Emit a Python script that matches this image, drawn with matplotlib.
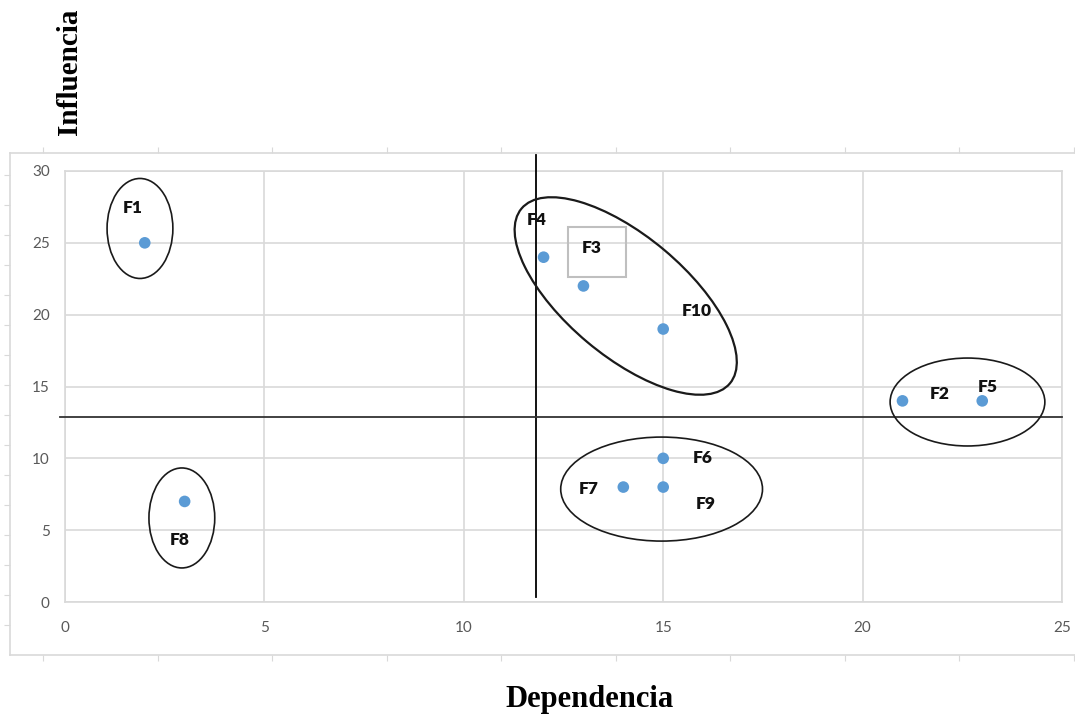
import matplotlib
matplotlib.use("Agg")
import matplotlib.pyplot as plt
from matplotlib.patches import Ellipse, Rectangle
from matplotlib.transforms import Affine2D

# Datos (Dependencia, Influencia)
labels = ["F1", "F2", "F3", "F4", "F5", "F6", "F7", "F8", "F9", "F10"]
dependencia = [2, 21, 13, 12, 23, 15, 14, 3, 15, 15]
influencia = [25, 14, 22, 24, 14, 10, 8, 7, 8, 19]

# posiciones de las etiquetas (en unidades del grafico)
label_x = [1.71, 21.94, 13.21, 11.84, 23.14, 16.0, 13.14, 2.88, 16.07, 15.85]
label_y = [27.4, 14.47, 24.63, 26.58, 14.96, 10.02, 7.86, 4.31, 6.82, 20.25]

xticks = [0, 5, 10, 15, 20, 25]
yticks = [0, 5, 10, 15, 20, 25, 30]

W, H = 1075, 717
fig = plt.figure(figsize=(W / 100, H / 100), dpi=100)

# marco exterior (lienzo)
frame = fig.add_axes([10 / W, 1 - 655 / H, 1080 / W, 502 / H], zorder=0)
frame.set_xlim(0, 1080)
frame.set_ylim(0, 502)
frame.set_facecolor("none")
for s in ["left", "top", "bottom"]:
    frame.spines[s].set_color("#d9d9d9")
    frame.spines[s].set_linewidth(1.2)
frame.spines["right"].set_visible(False)
frame.set_xticks([33 + 114.5 * k for k in range(10)])
frame.set_yticks([30 * k for k in range(1, 17)])
frame.tick_params(axis="x", which="both", top=True, bottom=True, direction="out",
                  length=4, color="#d9d9d9", labelbottom=False)
frame.tick_params(axis="y", left=True, direction="out", length=4,
                  color="#d9d9d9", labelleft=False)

# area de trazado
ax = fig.add_axes([65 / W, 1 - 602 / H, 997 / W, 431 / H], zorder=1)
ax.set_facecolor("none")
ax.set_xlim(0, 25)
ax.set_ylim(0, 30)
ax.set_xticks(xticks)
ax.set_yticks(yticks)
ax.grid(True, color="#d9d9d9", linewidth=1.2)
ax.set_axisbelow(True)
for s in ax.spines.values():
    s.set_color("#d9d9d9")
    s.set_linewidth(1.2)
ax.tick_params(length=0, labelsize=11, labelcolor="#595959")
ax.tick_params(axis="y", pad=11)
ax.tick_params(axis="x", pad=14)
for t in ax.get_xticklabels() + ax.get_yticklabels():
    t.set_fontfamily("Lato")

ax.scatter(dependencia, influencia, s=70, color="#5b9bd5", zorder=4,
           edgecolors="none")

for lab, x, y in zip(labels, label_x, label_y):
    ax.text(x, y, lab, ha="center", va="center", fontsize=12.5,
            fontweight="heavy", family="Lato", color="#111111", zorder=5)

# cuadro de F3
ax.add_patch(Rectangle((12.61, 22.62), 1.46, 3.48, fill=False,
                       edgecolor="#bfbfbf", linewidth=1.5, zorder=3))

# lineas de cuadrantes
ax.plot([11.8, 11.8], [0.35, 31.1], color="black", linewidth=1.3,
        clip_on=False, zorder=3)
ax.plot([-0.13, 25], [12.87, 12.87], color="#333333", linewidth=1.3,
        clip_on=False, zorder=3)

# elipses
for cx, cy, w, h in [(1.88, 26.0, 1.65, 6.96), (2.93, 5.85, 1.65, 6.96),
                     (22.63, 13.92, 3.88, 6.12), (14.96, 7.86, 5.06, 7.24)]:
    ax.add_patch(Ellipse((cx, cy), w, h, fill=False, edgecolor="#1a1a1a",
                         linewidth=1.2, zorder=3, clip_on=False))

px_x, px_y = 997 / 25, 431 / 30
tr = Affine2D().scale(1 / px_x, 1 / px_y) + ax.transData
ax.add_patch(Ellipse((14.06 * px_x, 21.3 * px_y), 272, 120, angle=-40,
                     fill=False, edgecolor="#1a1a1a", linewidth=1.6,
                     transform=tr, zorder=3, clip_on=False))

# titulos de ejes
fig.text(70 / W, 1 - 72 / H, "Influencia", rotation=90, ha="center",
         va="center", fontsize=21, fontweight="bold", family="Liberation Serif")
fig.text(590 / W, 1 - 700 / H, "Dependencia", ha="center", va="center",
         fontsize=22, fontweight="bold", family="Liberation Serif")

fig.savefig("out.png", dpi=100)
